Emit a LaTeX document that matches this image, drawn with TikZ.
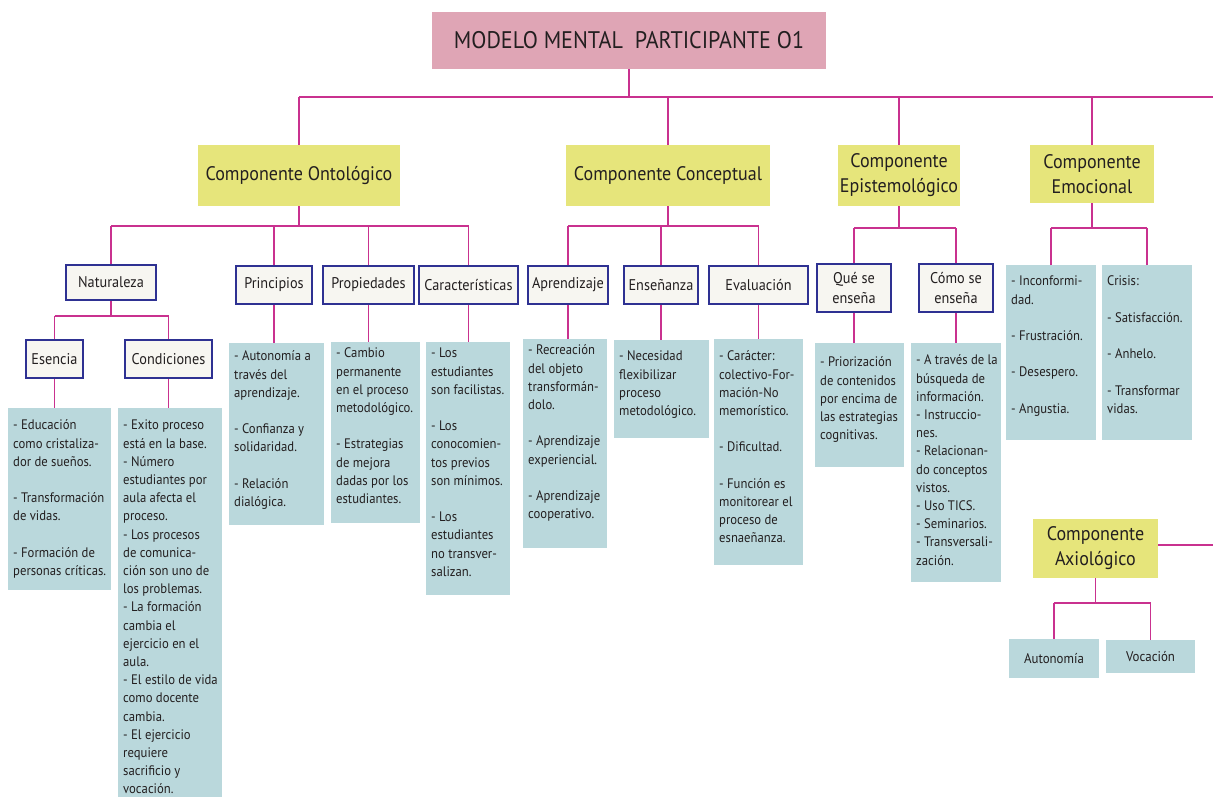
\documentclass[tikz,border=0pt]{standalone}
\usepackage{fontspec}
\setmainfont{PT Sans}[FakeStretch=0.92]
\usetikzlibrary{calc}
\definecolor{linec}{HTML}{C9318F}
\definecolor{yell}{HTML}{E6E57B}
\definecolor{pinkt}{HTML}{DFA5B5}
\definecolor{cfill}{HTML}{BAD8DC}
\definecolor{lfill}{HTML}{F7F6F1}
\definecolor{lbord}{HTML}{2E3192}
\definecolor{txt}{HTML}{231F20}
\tikzset{
  conn/.style={draw=linec, line width=1.6pt},
  titlebox/.style={fill=pinkt, inner sep=0pt, text=txt, font=\fontsize{24}{28}\selectfont},
  compbox/.style={fill=yell, inner sep=0pt, text=txt, align=center, font=\fontsize{19.6}{25}\selectfont},
  lblbox/.style={fill=lfill, draw=lbord, line width=1.5pt, inner sep=0pt, text=txt, align=center, font=\fontsize{15.5}{20}\selectfont},
  leafbox/.style={fill=cfill, inner sep=0pt, text=txt, font=\fontsize{14}{18}\selectfont},
  cbox/.style={fill=cfill, inner sep=0pt, anchor=north west},
  ctext/.style={inner sep=0pt, anchor=north west, align=left, text=txt, font=\fontsize{13.8}{18.2}\selectfont},
}
\newcommand{\cntbox}[7]{%
  \node[cbox, minimum width=#4pt, minimum height=#5pt] (#1) at (#2,#3) {};
  \node[ctext] (#1t) at ($(#1.north west)+(5,#6)$) {\strut #7};
}
\begin{document}
\begin{tikzpicture}[x=1pt,y=-1pt]
\clip (0,0) rectangle (1213,796);
\fill[white] (0,0) rectangle (1213,796);
% top level
\node[titlebox, minimum width=394pt, minimum height=57pt] (title) at (629,40.5) {MODELO MENTAL\ \ PARTICIPANTE O1};
\node[compbox, minimum width=202pt, minimum height=61pt] (ont) at (299,175.5) {Componente Ontológico};
\node[compbox, minimum width=204pt, minimum height=61pt] (con) at (668,175.5) {Componente Conceptual};
\node[compbox, minimum width=122pt, minimum height=61pt] (epi) at (899,175.5) {Componente\\Epistemológico};
\node[compbox, minimum width=124pt, minimum height=58pt] (emo) at (1092,174) {Componente\\Emocional};
\node[compbox, minimum width=125pt, minimum height=59pt] (axi) at (1095.5,548.5) {Componente\\Axiológico};
\coordinate (bus) at (0,97);
\coordinate (busR) at (1213,97);
\coordinate (axiR) at (1213,545);
\draw[conn] (title.south) -- (title.south |- bus);
\draw[conn] (ont.north |- bus) -- (busR);
\foreach \n in {ont,con,epi,emo} \draw[conn] (\n.north) -- (\n.north |- bus);
\draw[conn] (axi.east |- axiR) -- (axiR);
% ontologico
\node[lblbox, minimum width=90pt, minimum height=35pt] (nat) at (111,282.5) {Naturaleza};
\node[lblbox, minimum width=76pt, minimum height=38pt] (pri) at (274,285) {Principios};
\node[lblbox, minimum width=91pt, minimum height=38pt] (pro) at (368.5,285) {Propiedades};
\node[lblbox, minimum width=99pt, minimum height=38pt] (car) at (468.5,285) {Características};
\node[lblbox, minimum width=57pt, minimum height=38pt] (ese) at (54.5,359) {Esencia};
\node[lblbox, minimum width=87pt, minimum height=38pt] (cnd) at (168.5,359) {Condiciones};
\coordinate (ob) at (0,226);
\draw[conn] (ont.south) -- (ont.south |- ob);
\draw[conn] (nat.north |- ob) -- (car.north |- ob);
\foreach \n in {nat,pri,pro,car} \draw[conn] (\n.north) -- (\n.north |- ob);
\coordinate (nb) at (0,316);
\draw[conn] (nat.south) -- (nat.south |- nb);
\draw[conn] (ese.north |- nb) -- (cnd.north |- nb);
\foreach \n in {ese,cnd} \draw[conn] (\n.north) -- (\n.north |- nb);
% conceptual
\node[lblbox, minimum width=80pt, minimum height=38pt] (apr) at (568,285) {Aprendizaje};
\node[lblbox, minimum width=74pt, minimum height=38pt] (ens) at (661,285) {Enseñanza};
\node[lblbox, minimum width=99pt, minimum height=38pt] (eva) at (758.5,285) {Evaluación};
\coordinate (cb) at (0,226);
\draw[conn] (con.south) -- (con.south |- cb);
\draw[conn] (apr.north |- cb) -- (eva.north |- cb);
\foreach \n in {apr,ens,eva} \draw[conn] (\n.north) -- (\n.north |- cb);
% epistemologico
\node[lblbox, minimum width=74pt, minimum height=48pt] (que) at (854,288) {Qué se\\enseña};
\node[lblbox, minimum width=74pt, minimum height=48pt] (com) at (956,288) {Cómo se\\enseña};
\coordinate (eb) at (0,228);
\draw[conn] (epi.south) -- (epi.south |- eb);
\draw[conn] (que.north |- eb) -- (com.north |- eb);
\foreach \n in {que,com} \draw[conn] (\n.north) -- (\n.north |- eb);
% content boxes
\cntbox{esC}{8}{408}{103}{182}{9}{- Educación\\como cristaliza-\\dor de sueños.\\[18.2pt]- Transformación\\de vidas.\\[18.2pt]- Formación de\\personas críticas.}
\cntbox{cnC}{118}{408}{104}{400}{9}{\fontsize{13.8}{17.6}\selectfont- Exito proceso\\está en la base.\\- Número\\estudiantes por\\aula afecta el\\proceso.\\- Los procesos\\de comunica-\\ción son uno de\\los problemas.\\- La formación\\cambia el\\ejercicio en el\\aula.\\- El estilo de vida\\como docente\\cambia.\\- El ejercicio\\requiere\\sacrificio y\\vocación.}
\cntbox{prC}{229}{343}{95}{182}{5}{- Autonomía a\\través del\\aprendizaje.\\[18.2pt]- Confianza y\\solidaridad.\\[18.2pt]- Relación\\dialógica.}
\cntbox{ppC}{331}{342}{89}{181}{3}{- Cambio\\permanente\\en el proceso\\metodológico.\\[18.2pt]- Estrategias\\de mejora\\dadas por los\\estudiantes.}
\cntbox{caC}{426}{342}{84}{253}{3}{- Los\\estudiantes\\son facilistas.\\[18.2pt]- Los\\conocomien-\\tos previos\\son mínimos.\\[18.2pt]- Los\\estudiantes\\no transver-\\salizan.}
\cntbox{apC}{523}{339}{84}{209}{3}{- Recreación\\del objeto\\transformán-\\dolo.\\[18.2pt]- Aprendizaje\\experiencial.\\[18.2pt]- Aprendizaje\\cooperativo.}
\cntbox{enC}{614}{340}{95}{98}{8}{- Necesidad\\flexibilizar\\proceso\\metodológico.}
\cntbox{evC}{714}{339}{89}{226}{9}{- Carácter:\\colectivo-For-\\mación-No\\memorístico.\\[18.2pt]- Dificultad.\\[18.2pt]- Función es\\monitorear el\\proceso de\\esnaeñanza.}
\cntbox{quC}{815}{343}{89}{124}{11}{- Priorización\\de contenidos\\por encima de\\las estrategias\\cognitivas.}
\cntbox{cmC}{911}{343}{90}{239}{9}{- A través de la\\búsqueda de\\información.\\- Instruccio-\\nes.\\- Relacionan-\\do conceptos\\vistos.\\- Uso TICS.\\- Seminarios.\\- Transversali-\\zación.}
\cntbox{emA}{1006}{265}{90}{175}{8}{- Inconformi-\\dad.\\[18.2pt]- Frustración.\\[18.2pt]- Desespero.\\[18.2pt]- Angustia.}
\cntbox{emB}{1102}{265}{90}{175}{8}{Crisis:\\[18.2pt]- Satisfacción.\\[18.2pt]- Anhelo.\\[18.2pt]- Transformar\\vidas.}
% label to content connectors
\foreach \a/\b in {ese/esC,cnd/cnC,pri/prC,pro/ppC,car/caC,apr/apC,ens/enC,eva/evC,que/quC,com/cmC}
  \draw[conn] (\a.south) -- (\a.south |- \b.north);
% emocional
\coordinate (mb) at (0,228);
\draw[conn] (emo.south) -- (emo.south |- mb);
\draw[conn] (emA.north |- mb) -- (emB.north |- mb);
\foreach \n in {emA,emB} \draw[conn] (\n.north) -- (\n.north |- mb);
% axiologico
\node[leafbox, minimum width=90pt, minimum height=39pt] (aut) at (1054,658.5) {Autonomía};
\node[leafbox, minimum width=89pt, minimum height=33pt] (voc) at (1150.5,656.5) {Vocación};
\coordinate (ab) at (0,603);
\draw[conn] (axi.south) -- (axi.south |- ab);
\draw[conn] (aut.north |- ab) -- (voc.north |- ab);
\foreach \n in {aut,voc} \draw[conn] (\n.north) -- (\n.north |- ab);
\end{tikzpicture}
\end{document}
